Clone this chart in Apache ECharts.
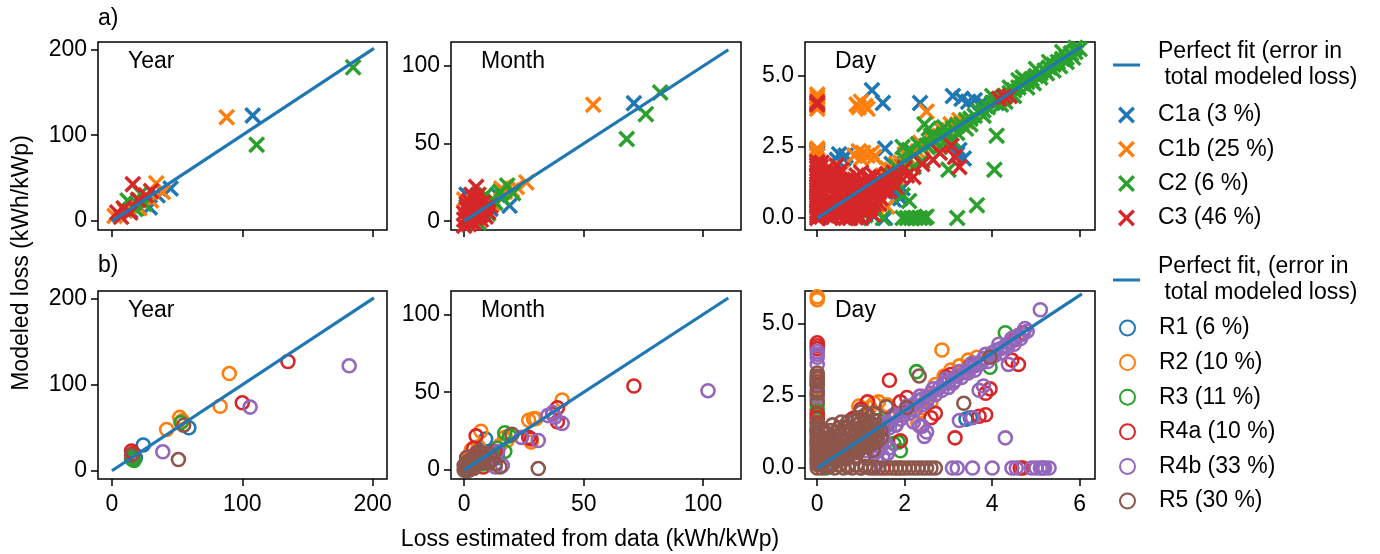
<!DOCTYPE html>
<html><head><meta charset="utf-8">
<script src="https://cdn.jsdelivr.net/npm/echarts@6/dist/echarts.min.js"></script>
<style>html,body{margin:0;padding:0;background:#fff}#c{width:1380px;height:554px}</style>
</head><body><div id="c"></div>
<script>
// ---------- tick labels ----------
const ticksYear = [0, 100, 200];
const ticksMonth = [0, 50, 100];
const ticksDayX = [0, 2, 4, 6];
const ticksDayY = [0, 2.5, 5];

// ---------- names ----------
const panelTitles = ['Year', 'Month', 'Day'];
const rowLabels = ['a)', 'b)'];
const fitNameA = 'Perfect fit (error in\n total modeled loss)';
const fitNameB = 'Perfect fit, (error in\n total modeled loss)';
const namesA = ['C1a (3 %)', 'C1b (25 %)', 'C2 (6 %)', 'C3 (46 %)'];
const namesB = ['R1 (6 %)', 'R2 (10 %)', 'R3 (11 %)', 'R4a (10 %)', 'R4b (33 %)', 'R5 (30 %)'];

// ---------- perfect fit lines ----------
const fitYear = [[0, 0], [201, 201]];
const fitMonth = [[0, 0], [110.5, 110.5]];
const fitDay = [[0, 0], [6.05, 6.05]];

// ---------- row a : Year ----------
const yearC1a = [[108,123],[45,38],[29,16],[20,18],[35,30],[14,12]];
const yearC1b = [[88,121],[34,44],[39,34],[30,24],[21,15],[2,6],[10,12],[25,28]];
const yearC2 = [[185,179],[111,89],[22,32],[12,24],[25,20],[18,14]];
const yearC3 = [[16,43],[26,30],[9,15],[4,10],[14,10],[30,35],[20,25],[7,5]];

// ---------- row a : Month ----------
const monthC1a = [[71,76],[14,17],[19,10],[1,17],[8,6],[4,3],[11,8],[2,1]];
const monthC1b = [[54,75],[26,25],[15.5,21],[12,11.5],[0,14],[3,9],[6,4],[20,20],[1,2],[9,7],[17,19],[22,22]];
const monthC2 = [[82,83],[76,69],[68,53],[18,23],[20.5,18],[9,17],[6,-1],[13,12],[16,15],[3,2],[10,5],[15,19],[12,14]];
const monthC3 = [[5,22],[2,13],[4,10],[1,8],[3,5],[6,7],[2,3],[0,1],[8,12],[5,2],[7,4],[1,0],[3,0],[9,9],[4,15],[10,6],[6,12],[0,5],[2,-2],[11,10],[7,1],[3,17],[6,17],[1,11],[8,8],[5,13],[0,-3],[4,-1],[9,3],[2,9]];

// ---------- row a : Day ----------
const dayC1a = [[0,2.4],[0,2.3],[0,2.2],[0,1.1],[0,0.6],
 [0.5,2.25],[0.6,2.1],[0.65,2.2],[0.45,2.05],
 [1.25,4.5],[1.5,4.05],[2.35,4.05],[3.1,4.3],[3.3,4.2],[3.45,4.1],[3.6,4.15],[3.75,4.05],[3.85,3.95],
 [1.55,2.45],[3.25,2.4],[3.35,2.1],[3.2,2.25],
 [1.3,0.05],[1.55,0.0],[1.9,0.7],[1.85,0.9],[1.75,0.65],[1.95,1.05],
 [1.1,0.55],[1.2,0.8],[1.5,1.2],[1.7,1.9],[2.2,2.3],[2.6,2.6],[3.0,3.0],[4.1,4.05],
 [0.3,0.2],[0.5,0.4],[0.8,0.7],[1.0,1.0],[0.9,0.3],[1.4,0.9]];
const dayC1b = [[0,4.35],[0,4.25],[0,4.15],[0,4.05],[0,3.95],[0,3.85],[0,2.45],[0,2.35],[0,2.2],[0,2.05],[0,1.9],
 [0.9,4.0],[1.0,4.1],[1.1,3.95],[1.15,3.85],[0.95,3.9],[2.5,3.75],
 [0.85,2.2],[0.95,2.35],[1.05,2.3],[1.15,2.2],[1.25,2.3],[1.3,2.15],[1.0,2.1],
 [0.35,1.3],[0.25,1.5],[0.55,1.6],[0.3,1.75],
 [0.7,0.6],[0.9,0.85],[1.1,1.05],[1.3,1.25],[1.5,1.5],[1.7,1.7],[1.9,1.95],[2.1,2.1],[2.3,2.35],[2.5,2.55],[2.7,2.75],[2.9,3.0],[3.1,3.2],[3.3,3.35],[2.6,2.8],[2.8,2.9],[3.0,3.1],[2.4,2.5],[3.2,3.3],[2.2,2.2],
 [2.65,2.95],[2.85,3.1],[3.05,3.3],[3.25,3.45],[3.4,3.4],[2.35,2.65],[2.0,2.25],[1.8,1.9],[1.6,1.75],
 [1.2,0.6],[1.35,0.3],[1.05,0.2],[1.6,0.4],[0.5,0.1],[0.8,0.3],[1.6,1.3],[2.0,1.7],[1.4,0.8],[1.8,1.4]];
const dayC2 = [[1.4,1.35],[1.6,1.55],[1.8,1.8],[2.0,2.05],[2.2,2.2],[2.4,2.45],[2.5,2.55],[2.6,2.6],[2.7,2.75],[2.8,2.8],[2.9,2.95],[3.0,3.0],[3.1,3.15],[3.2,3.25],[3.3,3.3],[3.4,3.45],[3.5,3.5],[3.6,3.6],[3.7,3.75],[3.8,3.8],[3.9,3.9],[4.0,4.05],[4.1,4.1],[4.2,4.2],[4.3,4.3],[4.4,4.4],[4.5,4.5],[4.6,4.6],[4.7,4.75],[4.8,4.8],[4.9,4.9],[5.0,5.0],[5.1,5.1],[5.2,5.2],[5.3,5.3],[5.4,5.4],[5.5,5.5],[5.6,5.6],[5.7,5.65],[5.8,5.8],[5.9,5.85],[6.0,5.95],
 [2.3,2.6],[2.6,2.9],[2.9,3.2],[3.2,3.0],[3.5,3.3],[3.8,3.6],[4.2,4.0],[4.5,4.3],[4.8,4.6],[5.1,4.95],[5.4,5.2],[5.7,5.5],[2.0,1.8],[1.7,1.5],[1.5,1.2],[4.0,4.3],[4.4,4.6],[4.7,4.95],[5.0,5.25],[5.3,5.5],[5.6,5.85],[5.9,6.0],[4.6,4.85],[4.95,4.75],[5.25,5.1],[5.55,5.35],[5.85,5.65],[4.3,4.1],
 [2.55,3.15],[2.45,3.3],[1.95,2.5],[2.1,2.4],
 [4.1,2.9],[4.05,1.7],[3.65,0.45],[3.2,0.0],[3.0,1.7],[1.95,0.8],[2.1,0.6],
 [1.95,0.0],[2.05,0.0],[2.15,0.0],[2.25,0.0],[2.35,0.0],[2.45,0.0],[2.5,0.05],[1.5,0.0],
 [0.95,0.0],[1.1,0.1],[0.8,0.5],[1.2,0.9],[1.0,0.6],[1.3,0.4],[1.6,1.0],[1.8,1.3],[2.2,1.8],[2.4,2.0],[2.8,2.5],[3.1,2.75],[3.4,3.15]];
const dayC3 = [[0,0],[0,0.08],[0,0.17],[0,0.25],[0,0.36],[0,0.44],[0,0.52],[0,0.63],[0,0.71],[0,0.8],[0,0.92],[0,1.0],[0,1.12],[0,1.2],[0,1.31],[0,1.43],[0,1.5],[0,1.62],[0,1.74],[0,1.85],[0,1.97],[0,4.0],[0,4.08],
 [0.05,0.3],[0.07,1.2],[0.1,0.6],[0.04,0.9],[0.06,1.55],[0.08,1.8],
 [0.1,0.05],[0.15,0.2],[0.2,0.1],[0.25,0.35],[0.3,0.0],[0.35,0.25],[0.4,0.5],[0.45,0.15],[0.5,0.4],[0.55,0.65],[0.6,0.3],[0.65,0.0],[0.7,0.55],[0.75,0.8],[0.8,0.2],[0.85,0.6],[0.9,0.9],[0.95,0.45],[1.0,0.75],[1.05,1.05],[1.1,0.3],[1.15,0.65],[1.2,1.15],[1.25,0.9],[1.3,0.5],[1.35,1.3],[1.4,1.0],[1.45,0.7],[1.5,1.4],[1.55,1.15],[1.6,1.55],[1.65,0.95],[1.7,1.3],[1.75,1.6],[1.8,1.1],[1.9,1.45],[2.0,1.75],
 [0.2,0.5],[0.3,0.7],[0.4,0.9],[0.5,1.1],[0.6,1.0],[0.7,1.25],[0.8,1.35],[0.9,1.5],[1.0,1.6],[0.3,1.05],[0.15,0.8],[0.25,1.4],[0.45,1.3],[0.2,1.7],[0.1,1.95],[0.35,0.05],[0.55,0.1],[0.75,0.0],[0.9,0.15],[1.0,0.0],[0.6,0.75],[1.1,1.25],[1.3,1.5],[0.85,1.1],
 [0.12,0.35],[0.22,0.62],[0.32,0.4],[0.42,0.72],[0.52,0.88],[0.62,0.55],[0.72,0.95],[0.82,0.45],[0.92,1.15],[1.02,0.4],[1.12,0.9],[1.22,0.35],[1.32,1.05],[1.42,0.5],[1.52,0.95],[0.18,1.15],[0.28,1.25],[0.38,1.55],[0.48,0.28],[0.58,1.35],[0.68,0.15],[0.78,1.15],[0.88,0.02],[0.98,1.3],[1.08,0.15],[1.18,1.45],[1.28,0.12],[0.14,1.45],[0.24,0.2],[0.34,1.65],[0.44,1.85],
 [0.55,1.7],[0.7,1.4],[0.5,1.55],[3.07,2.55],[3.25,1.8],[2.65,2.05],[2.2,1.45],[3.15,2.15],[2.05,1.5],[1.6,1.0],[4.27,4.27],[4.4,4.3],[4.15,4.2],[2.4,1.9],[2.8,2.3]];

// ---------- row b : Year ----------
const yearR1 = [[59,50],[24,30],[18,15],[16,13]];
const yearR2 = [[90,113],[83,75],[52,62],[42,48],[54,58]];
const yearR3 = [[53,56],[15,14],[16,17],[17,12]];
const yearR4a = [[135,127],[100,79],[15,23],[16,20]];
const yearR4b = [[182,122],[106,74],[39,22]];
const yearR5 = [[55,53],[51,13],[15,18]];

// ---------- row b : Month ----------
const monthR1 = [[9,20],[5,10],[3,4],[1,1],[12,12],[7,6],[2,2],[14,8]];
const monthR2 = [[41,45],[27,32],[29,33],[30,33],[28,18],[7,25],[18,19],[3,13],[2,8],[6,15],[10,10],[15,16],[1,3],[17,21]];
const monthR3 = [[17,24],[17,12],[14,14],[12,10],[7,8],[3,2],[1,0],[8,4],[19,22]];
const monthR4a = [[71,54],[39,40],[39,31],[28,20],[5,22],[37,36],[4,14],[2,6],[1,1],[6,9],[10,8],[3,3],[13,12],[8,2],[27,21]];
const monthR4b = [[102,51],[37,37],[41,30],[31,19],[24,21],[35,35],[13,2],[11,9],[14,12],[9,6],[3,1],[2,4],[16,3],[38,34]];
const monthR5 = [[31,1],[20,23],[15,2],[1,1],[2,3],[3,2],[4,5],[0,0],[5,7],[6,4],[7,9],[8,6],[9,8],[10,5],[11,10],[12,7],[0,3],[1,5],[2,0],[3,6],[4,1],[13,4],[5,11],[6,12],[8,11],[1,8]];

// ---------- row b : Day ----------
const dayR1 = [[0.85,1.75],[0.7,1.6],[3.5,1.75],[1.0,0.9],[0.5,0.4],[1.3,1.2],[0.3,0.3],[0,0.8],[0.2,0.1],[1.6,1.5],[2.0,1.9],[0.9,0.6],[3.4,1.7],[0,1.2],[1.1,1.3]];
const dayR2 = [[0,5.95],[0,5.85],[2.85,4.1],[0.95,2.15],[1.4,2.3],[1.6,2.2],[1.2,2.1],[1.3,2.25],[0,2.6],[0,2.5],[0,2.4],[0,3.0],[2.3,1.55],[2.0,2.0],[2.5,2.5],[2.9,3.2],[3.05,3.4],[3.25,3.55],[3.45,3.75],[3.65,3.85],[3.5,3.6],[2.4,2.1],[2.23,2.15],[2.38,2.0],[1.9,1.85],[1.8,0.0],[1.9,0.0],[0.6,0.8],[1.0,1.4],[2.7,2.9],[3.3,3.3],[1.5,1.6],[0.4,0.6],[2.6,2.3]];
const dayR3 = [[4.3,4.7],[2.27,3.35],[3.95,3.5],[0,2.2],[0,2.0],[0,1.85],[0,1.7],[1.2,1.6],[1.5,1.4],[1.9,0.6],[0.6,0.9],[0.4,0.3],[2.5,2.3],[3.0,3.0],[1.0,0.8],[0.2,0.0],[1.75,0.85],[1.85,0.9],[1.4,1.65]];
const dayR4a = [[0,4.35],[0,4.25],[0,4.15],[0,2.9],[0,1.9],[0,1.75],[0,1.55],[0,1.35],[0,0.9],
 [1.65,3.05],[3.15,1.05],[3.7,1.8],[3.85,1.85],[3.95,2.75],[3.85,2.6],[4.45,3.75],[4.6,3.6],[4.7,4.7],[4.6,4.6],[2.05,2.45],[2.6,1.75],[1.15,2.3],[0.65,1.4],[0.35,1.0],[1.8,1.5],[1.9,0.95],[4.64,0.0],[4.7,0.0],[1.3,0.0],[1.0,1.1],[2.95,3.15],[3.05,3.25],[1.0,2.05],[1.9,2.3],[2.7,1.9],[0.8,1.7],[1.3,1.9],[1.5,0.0],[4.5,4.45],[3.5,3.55]];
const dayR4b = [[0,4.05],[0,3.95],[0,3.85],[0,3.6],[0,2.5],[0,1.0],[0,0.8],[0,0.6],[0,0.3],[0,1.3],
 [1.2,1.2],[1.4,1.4],[1.6,1.6],[1.8,1.8],[2.0,2.0],[2.2,2.2],[2.4,2.4],[2.6,2.6],[2.8,2.8],[3.0,3.0],[3.2,3.2],[3.4,3.35],[3.6,3.55],[3.8,3.8],[4.0,4.0],[4.2,4.15],[4.4,4.35],[4.6,4.6],[4.8,4.75],
 [1.5,1.2],[1.8,1.5],[2.1,1.9],[2.4,2.2],[2.7,2.55],[3.0,2.8],[3.3,3.15],[3.6,3.4],[3.9,3.7],[4.2,4.0],[4.5,4.3],[1.3,1.35],[1.7,1.75],[2.3,2.35],[2.9,2.95],[3.5,3.5],[4.1,4.1],[4.7,4.65],[1.9,1.7],[2.5,2.3],[3.1,2.95],[3.7,3.6],[4.3,4.25],
 [1.35,1.1],[1.65,1.4],[1.95,1.85],[2.25,2.05],[2.55,2.45],[2.85,2.7],[3.15,3.05],[3.45,3.3],[3.75,3.65],[4.05,3.9],[4.35,4.2],[4.65,4.5],
 [1.45,1.5],[1.75,1.85],[2.05,2.15],[2.35,2.5],[2.65,2.75],[2.95,3.1],[3.25,3.35],[3.55,3.65],[3.85,3.95],[4.15,4.3],[4.45,4.5],[4.75,4.85],
 [1.3,0.5],[1.4,0.6],[1.5,0.4],[1.45,0.75],[1.2,0.8],[1.6,0.5],[1.35,0.35],[1.25,0.95],[1.55,0.9],[1.1,0.6],[1.5,1.0],[1.65,0.7],[1.4,0.2],
 [5.1,5.5],[4.3,1.05],[3.25,1.65],[3.55,1.75],[3.7,2.7],[3.8,2.85],[2.2,1.6],[2.5,1.25],[2.4,1.45],[4.37,3.6],[0.71,1.46],[2.34,1.46],[2.45,1.1],[0.9,1.2],[0.5,0.9],
 [3.09,0],[3.2,0],[3.55,0],[4.0,0],[4.45,0],[4.55,0],[4.9,0],[5.0,0],[5.1,0],[5.15,0],[5.2,0],[5.3,0],[1.0,0],[1.2,0.05]];
const dayR5 = [[0,3.3],[0,3.2],[0,3.1],[0,3.0],[0,2.85],[0,2.7],[0,2.6],[0,0.0],[0,0.12],[0,0.22],[0,0.35],[0,0.47],[0,0.58],[0,0.7],[0,0.85],[0,1.1],[0,1.25],[0,1.45],[0,1.6],[0,2.3],[0,0.97],[0,1.35],
 [0.1,0.0],[0.2,0.05],[0.3,0.15],[0.4,0.0],[0.5,0.1],[0.6,0.0],[0.7,0.05],[0.8,0.0],[0.9,0.1],[1.0,0.0],[1.1,0.05],[1.2,0.0],[1.3,0.02],[1.4,0.0],
 [0.15,0.3],[0.25,0.45],[0.35,0.3],[0.45,0.55],[0.55,0.4],[0.65,0.7],[0.75,0.5],[0.85,0.85],[0.95,0.6],[1.05,1.0],[1.15,0.75],[1.25,1.15],[1.35,0.9],[1.45,1.3],[0.2,0.7],[0.3,0.9],[0.4,1.1],[0.5,0.8],[0.6,1.2],[0.7,1.0],[0.8,1.35],[0.9,1.5],[1.0,1.3],[1.1,1.55],[1.2,1.4],[1.3,1.65],[0.1,0.5],[0.15,1.0],[0.3,1.3],[0.5,1.4],[0.7,1.6],[0.95,1.75],[1.1,1.85],
 [0.12,0.2],[0.22,0.28],[0.38,0.62],[0.48,0.25],[0.58,0.58],[0.68,0.32],[0.78,0.72],[0.88,0.38],[0.98,0.82],[1.08,0.45],[1.18,0.98],[1.28,0.62],[1.38,1.12],[0.28,0.05],[0.42,0.82],[0.62,0.9],[0.82,1.05],[1.02,1.15],[1.22,1.28],[0.18,1.25],[0.35,1.5],[0.55,1.6],[0.08,0.75],
 [0.05,0.15],[0.16,0.55],[0.26,0.75],[0.36,0.95],[0.46,0.38],[0.56,0.75],[0.66,0.48],[0.76,0.88],[0.86,0.62],[0.96,1.05],[1.06,0.72],[1.16,1.15],[1.26,0.85],[1.36,1.35],[1.46,1.05],[0.24,1.05],[0.44,1.25],[0.64,1.42],[0.84,1.62],[1.04,1.48],[1.24,1.55],
 [1.0,1.95],[1.15,1.85],[1.3,1.9],[1.58,2.13],[2.05,2.1],[2.33,3.2],[3.35,2.25],[3.95,3.85],
 [1.6,0],[1.7,0],[1.8,0],[1.9,0],[2.0,0],[2.1,0],[2.2,0],[2.3,0],[2.4,0],[2.5,0],[2.6,0],[2.7,0]];

// ---------- styling ----------
const FONT = 'Liberation Sans, Arial, sans-serif';
const FS = 23;
const colorsA = ['#1f77b4', '#ff7f0e', '#2ca02c', '#d62728'];
const colorsB = ['#1f77b4', '#ff7f0e', '#2ca02c', '#d62728', '#9467bd', '#8c564b'];
const X_SYMBOL = 'path://M0,2.9L2.9,0L10,7.1L17.1,0L20,2.9L12.9,10L20,17.1L17.1,20L10,12.9L2.9,20L0,17.1L7.1,10Z';

const rowA = [[yearC1a, yearC1b, yearC2, yearC3], [monthC1a, monthC1b, monthC2, monthC3], [dayC1a, dayC1b, dayC2, dayC3]];
const rowB = [[yearR1, yearR2, yearR3, yearR4a, yearR4b, yearR5], [monthR1, monthR2, monthR3, monthR4a, monthR4b, monthR5], [dayR1, dayR2, dayR3, dayR4a, dayR4b, dayR5]];
const fits = [fitYear, fitMonth, fitDay];

const colLeft = [98, 451, 805];
const colWidth = [289, 290, 290];
const rowTop = [42, 291];
const H = 188;
const xRange = [[-10.7, 211], [-5.5, 115.8], [-0.28, 6.35]];
const yRange = [[[-10.3, 208.5], [-5.7, 115.5], [-0.42, 6.2]], [[-9.6, 209], [-5.7, 115], [-0.38, 6.15]]];
const xTicks = [ticksYear, ticksMonth, ticksDayX];
const yTicks = [ticksYear, ticksMonth, ticksDayY];

const grids = [], xAxes = [], yAxes = [], series = [], titles = [];
for (let r = 0; r < 2; r++) {
  for (let c = 0; c < 3; c++) {
    const gi = r * 3 + c;
    grids.push({ left: colLeft[c], top: rowTop[r], width: colWidth[c], height: H, show: true,
      borderColor: '#000', borderWidth: 1.5, backgroundColor: 'transparent', outerBoundsMode: 'none', containLabel: false });
    xAxes.push({ type: 'value', gridIndex: gi, min: xRange[c][0], max: xRange[c][1],
      axisLine: { show: false, onZero: false }, splitLine: { show: false },
      axisTick: { show: true, inside: false, length: 7, lineStyle: { color: '#000', width: 1.5 }, customValues: xTicks[c] },
      axisLabel: { show: r === 1, customValues: xTicks[c], fontSize: FS, fontFamily: FONT, color: '#000', margin: 14 } });
    yAxes.push({ type: 'value', gridIndex: gi, min: yRange[r][c][0], max: yRange[r][c][1],
      axisLine: { show: false, onZero: false }, splitLine: { show: false },
      axisTick: { show: true, inside: false, length: 7, lineStyle: { color: '#000', width: 1.5 }, customValues: yTicks[c] },
      axisLabel: { customValues: yTicks[c], fontSize: FS, fontFamily: FONT, color: '#000', margin: 11,
        formatter: c === 2 ? (v => v.toFixed(1)) : (v => String(v)) } });
    const sets = r === 0 ? rowA[c] : rowB[c];
    const names = r === 0 ? namesA : namesB;
    const cols = r === 0 ? colorsA : colorsB;
    sets.forEach((d, k) => {
      const s = { type: 'scatter', name: names[k], xAxisIndex: gi, yAxisIndex: gi, data: d, z: 2,
        emphasis: { disabled: true }, clip: true };
      if (r === 0) {
        s.symbol = X_SYMBOL; s.symbolSize = 17; s.itemStyle = { color: cols[k], opacity: 1 };
      } else {
        s.symbol = 'circle'; s.symbolSize = 13;
        s.itemStyle = { color: 'rgba(0,0,0,0)', borderColor: cols[k], borderWidth: 2.6, opacity: 1 };
      }
      series.push(s);
    });
    series.push({ type: 'line', name: r === 0 ? fitNameA : fitNameB, xAxisIndex: gi, yAxisIndex: gi,
      data: fits[c], showSymbol: false, symbol: 'none', z: 5, lineStyle: { color: '#1f77b4', width: 3.2 },
      itemStyle: { color: '#1f77b4' }, emphasis: { disabled: true } });
    titles.push({ text: panelTitles[c], left: colLeft[c] + 30, top: rowTop[r] + 7, padding: 0,
      textStyle: { fontSize: FS, fontWeight: 'normal', fontFamily: FONT, color: '#000', lineHeight: 26 } });
  }
}
titles.push({ text: rowLabels[0], left: 98, top: 6, padding: 0, textStyle: { fontSize: FS, fontWeight: 'normal', fontFamily: FONT, color: '#000', lineHeight: 26 } });
titles.push({ text: rowLabels[1], left: 98, top: 253, padding: 0, textStyle: { fontSize: FS, fontWeight: 'normal', fontFamily: FONT, color: '#000', lineHeight: 26 } });

const legText = { fontSize: FS, fontFamily: FONT, color: '#000', lineHeight: 26 };
const option = {
  animation: false,
  backgroundColor: '#fff',
  textStyle: { fontFamily: FONT },
  grid: grids, xAxis: xAxes, yAxis: yAxes, series: series, title: titles,
  legend: [
    { data: [{ name: fitNameA, icon: 'rect' }], left: 1113, top: 39, orient: 'vertical', padding: 0,
      itemWidth: 27, itemHeight: 3, textStyle: Object.assign({ padding: [0, 0, 0, 13] }, legText) },
    { data: namesA, left: 1118, top: 102, orient: 'vertical', padding: 0, itemGap: 8.3,
      itemWidth: 17, itemHeight: 17, textStyle: Object.assign({ padding: [0, 0, 0, 18] }, legText) },
    { data: [{ name: fitNameB, icon: 'rect' }], left: 1113, top: 254, orient: 'vertical', padding: 0,
      itemWidth: 27, itemHeight: 3, textStyle: Object.assign({ padding: [0, 0, 0, 13] }, legText) },
    { data: namesB, left: 1119, top: 315, orient: 'vertical', padding: 0, itemGap: 8.6,
      itemWidth: 15, itemHeight: 15, textStyle: Object.assign({ padding: [0, 0, 0, 19] }, legText) }
  ],
  graphic: [
    { type: 'text', x: 22, y: 263, rotation: Math.PI / 2,
      style: { text: 'Modeled loss (kWh/kWp)', fontSize: FS, fontFamily: FONT, fill: '#000', align: 'center', verticalAlign: 'middle' } },
    { type: 'text', x: 590, y: 540,
      style: { text: 'Loss estimated from data (kWh/kWp)', fontSize: FS, fontFamily: FONT, fill: '#000', align: 'center', verticalAlign: 'middle' } }
  ]
};
const chart = echarts.init(document.getElementById('c'), null, { renderer: 'canvas' });
chart.setOption(option);
</script>
</body></html>
